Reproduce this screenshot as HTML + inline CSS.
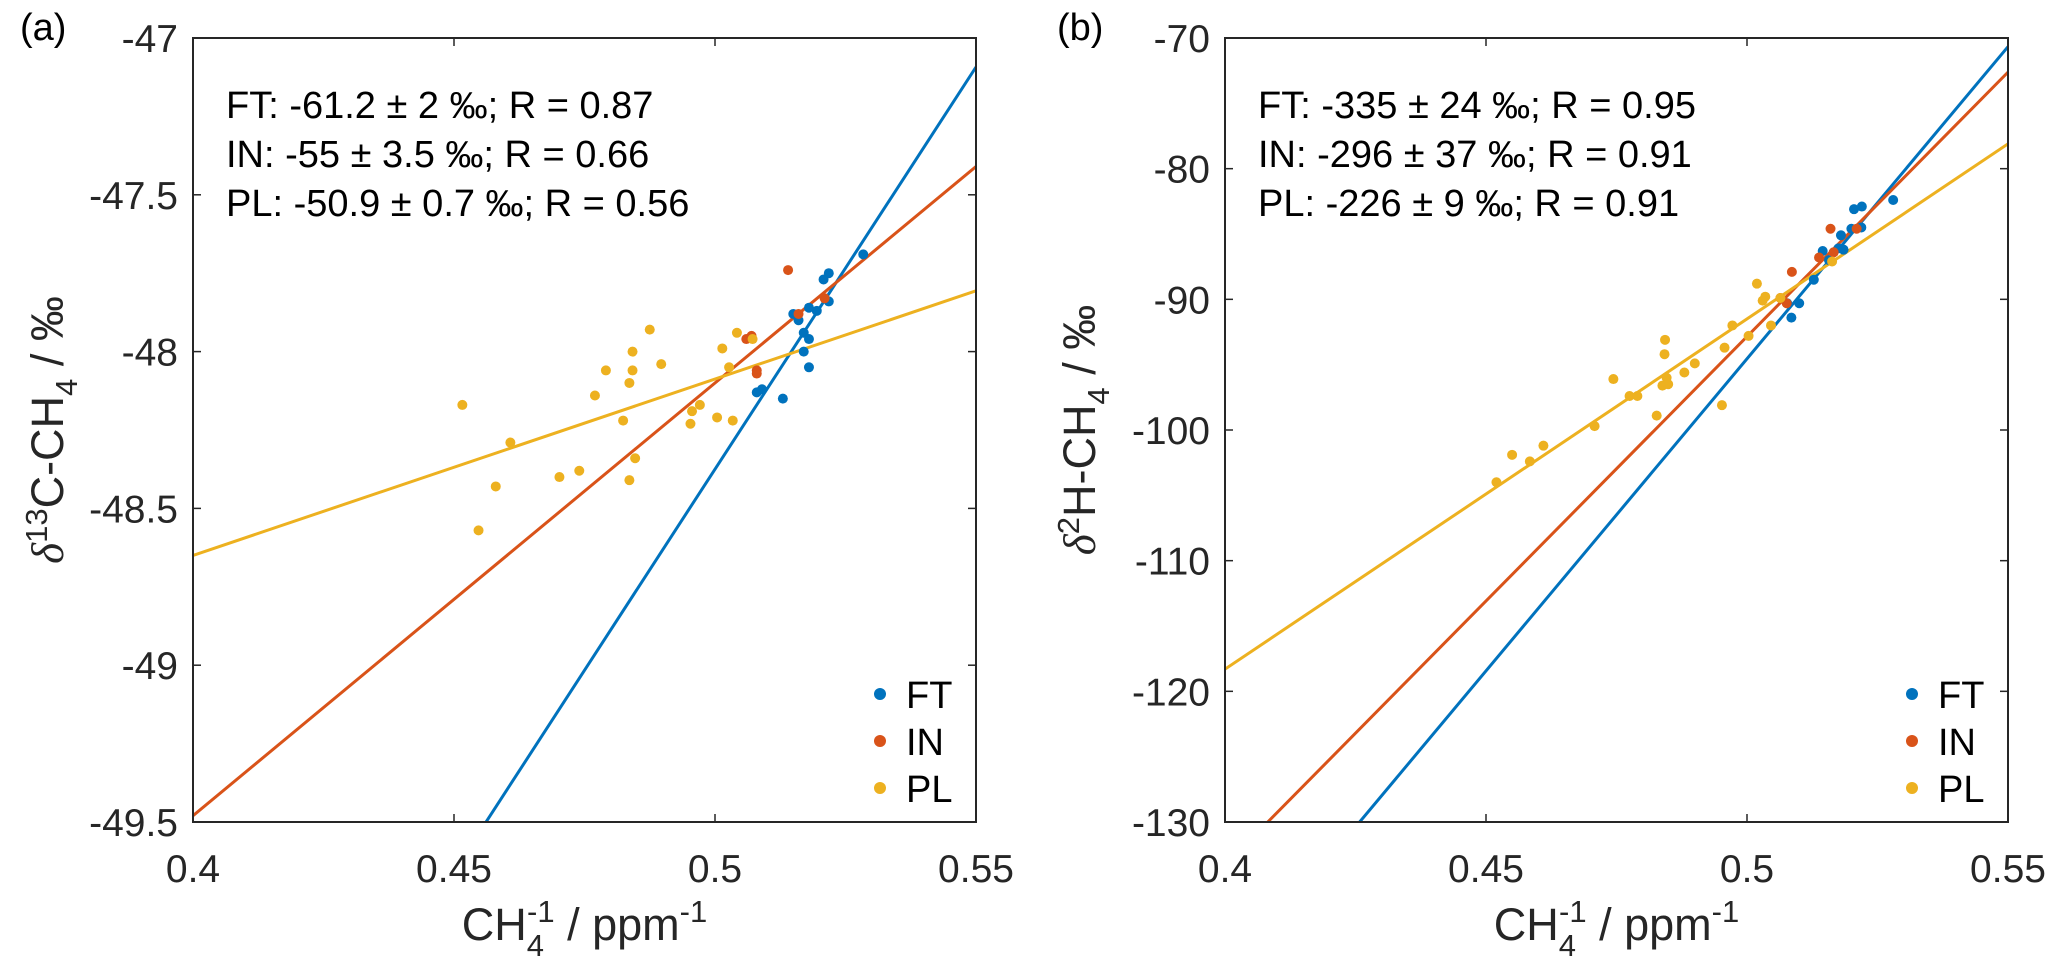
<!DOCTYPE html>
<html><head><meta charset="utf-8"><style>
html,body{margin:0;padding:0;background:#fff;width:2063px;height:975px;overflow:hidden;}
svg{display:block;font-family:"Liberation Sans",Arial,sans-serif;}
</style></head><body>
<svg id="chart" width="2063" height="975" viewBox="0 0 2063 975" xmlns="http://www.w3.org/2000/svg">
<defs>
<clipPath id="clipA"><rect x="193" y="38" width="783" height="784"/></clipPath>
<clipPath id="clipB"><rect x="1225" y="38" width="783" height="784"/></clipPath>
</defs>
</svg>
<script>
// ---- Panel (a) data ----
const xTicks = [0.4, 0.45, 0.5, 0.55];
const xTickLabels = ["0.4", "0.45", "0.5", "0.55"];
const aYTicks = [-47, -47.5, -48, -48.5, -49, -49.5];
const aYTickLabels = ["-47", "-47.5", "-48", "-48.5", "-49", "-49.5"];
const aFTx = [0.5284,0.5218,0.5208,0.5218,0.5195,0.518,0.515,0.516,0.517,0.518,0.517,0.518,0.513,0.509,0.508];
const aFTy = [-47.69,-47.75,-47.77,-47.84,-47.87,-47.86,-47.88,-47.90,-47.94,-47.96,-48.00,-48.05,-48.15,-48.12,-48.13];
const aINx = [0.514,0.506,0.507,0.508,0.508,0.516,0.521];
const aINy = [-47.74,-47.96,-47.95,-48.06,-48.07,-47.88,-47.83];
const aPLx = [0.4516,0.4547,0.458,0.4608,0.4702,0.474,0.477,0.4791,0.4824,0.4836,0.4842,0.4842,0.4847,0.4836,0.4875,0.4897,0.4953,0.4956,0.4971,0.5004,0.5014,0.5027,0.5034,0.5042,0.5072];
const aPLy = [-48.17,-48.57,-48.43,-48.29,-48.40,-48.38,-48.14,-48.06,-48.22,-48.10,-48.00,-48.06,-48.34,-48.41,-47.93,-48.04,-48.23,-48.19,-48.17,-48.21,-47.99,-48.05,-48.22,-47.94,-47.96];
const aIntercepts = [-61.2, -55, -50.9];
const aSlopes = [25.65, 13.8, 5.625];
const aAnnot = ["FT: -61.2 ± 2 ‰; R = 0.87", "IN: -55 ± 3.5 ‰; R = 0.66", "PL: -50.9 ± 0.7 ‰; R = 0.56"];
// ---- Panel (b) data ----
const bYTicks = [-70, -80, -90, -100, -110, -120, -130];
const bYTickLabels = ["-70", "-80", "-90", "-100", "-110", "-120", "-130"];
const bFTx = [0.528,0.5205,0.522,0.5219,0.520,0.518,0.5145,0.5175,0.5185,0.5157,0.5128,0.510,0.5085,0.5077];
const bFTy = [-82.4,-83.1,-82.9,-84.5,-84.6,-85.1,-86.3,-86.1,-86.2,-87.0,-88.5,-90.3,-91.4,-90.3];
const bINx = [0.516,0.5086,0.5138,0.5064,0.5076,0.521,0.5166];
const bINy = [-84.6,-87.9,-86.8,-89.9,-90.3,-84.6,-86.4];
const bPLx = [0.452,0.455,0.4584,0.461,0.4708,0.4744,0.4775,0.479,0.4827,0.4843,0.4842,0.4846,0.4838,0.4849,0.488,0.490,0.4952,0.4957,0.4972,0.5003,0.5019,0.503,0.5035,0.5046,0.5064,0.5163];
const bPLy = [-104.0,-101.9,-102.4,-101.2,-99.7,-96.1,-97.4,-97.4,-98.9,-93.1,-94.2,-96.0,-96.6,-96.5,-95.6,-94.9,-98.1,-93.7,-92.0,-92.8,-88.8,-90.1,-89.8,-92.0,-89.9,-87.1];
const bIntercepts = [-333.4, -295.2, -225.5];
const bSlopes = [477.7, 404.7, 268];
const bAnnot = ["FT: -335 ± 24 ‰; R = 0.95", "IN: -296 ± 37 ‰; R = 0.91", "PL: -226 ± 9 ‰; R = 0.91"];
const seriesNames = ["FT", "IN", "PL"];

const COLORS = ["#0072BD", "#D95319", "#EDB120"];
const NS = "http://www.w3.org/2000/svg";
const svg = document.getElementById("chart");
function mk(tag, attrs, parent){ const e=document.createElementNS(NS,tag); for(const k in attrs) e.setAttribute(k,attrs[k]); (parent||svg).appendChild(e); return e; }

function panel(opt){
  const L=opt.left, T=38, W=783, H=784, R=L+W, B=T+H;
  const x0=0.4, x1=0.55;
  const sx = v => L + (v-x0)/(x1-x0)*W;
  const sy = v => T + (opt.ymax - v)/(opt.ymax-opt.ymin)*H;
  const g = mk("g",{});
  
  
  const lg = mk("g",{"clip-path":"url(#"+opt.clip+")"},g);
  for(let i=0;i<3;i++){
    const l = mk("line",{x1:sx(x0),y1:sy(opt.ints[i]+opt.slopes[i]*x0),x2:sx(x1),y2:sy(opt.ints[i]+opt.slopes[i]*x1),stroke:COLORS[i],"stroke-width":3},lg);
    
    
  }
  const sets=[[opt.ftx,opt.fty],[opt.inx,opt.iny],[opt.plx,opt.ply]];
  for(let i=0;i<3;i++){
    for(let j=0;j<sets[i][0].length;j++){
      const c = mk("circle",{cx:sx(sets[i][0][j]),cy:sy(sets[i][1][j]),r:5,fill:COLORS[i]},g);
      
      
    }
  }
  const fr = mk("rect",{x:L,y:T,width:W,height:H,fill:"none",stroke:"#262626","stroke-width":2},g);
  
  
  for(let i=0;i<xTicks.length;i++){
    const x=sx(xTicks[i]);
    mk("line",{x1:x,y1:B,x2:x,y2:B-8,stroke:"#262626","stroke-width":1.5},g);
    mk("line",{x1:x,y1:T,x2:x,y2:T+8,stroke:"#262626","stroke-width":1.5},g);
    const t = mk("text",{x:x,y:882,"text-anchor":"middle","font-size":39,fill:"#262626"},g);
    t.textContent = xTickLabels[i];
    
    
  }
  for(let i=0;i<opt.yticks.length;i++){
    const y=sy(opt.yticks[i]);
    mk("line",{x1:L,y1:y,x2:L+8,y2:y,stroke:"#262626","stroke-width":1.5},g);
    mk("line",{x1:R,y1:y,x2:R-8,y2:y,stroke:"#262626","stroke-width":1.5},g);
    const t = mk("text",{x:L-15,y:y+14,"text-anchor":"end","font-size":39,fill:"#262626"},g);
    t.textContent = opt.ylabels[i];
    
    
  }
  const xt = mk("text",{x:L+W/2,y:940,"text-anchor":"middle","font-size":45,fill:"#262626"},g);
  xt.innerHTML = 'CH<tspan dy="16" font-size="31">4</tspan><tspan dx="-17" dy="-34" font-size="31">-1</tspan><tspan dy="18"> / ppm</tspan><tspan dy="-18" font-size="31">-1</tspan>';
  
  
  const yt = mk("text",{x:0,y:0,"text-anchor":"middle","font-size":45,fill:"#262626",transform:"translate("+(L-130)+","+(T+H/2)+") rotate(-90)"},g);
  yt.innerHTML = '<tspan font-family="Liberation Serif" font-style="italic">δ</tspan><tspan dy="-16" font-size="31">'+opt.iso+'</tspan><tspan dy="16">'+opt.el+'-CH</tspan><tspan dy="14" font-size="31">4</tspan><tspan dy="-14"> / ‰</tspan>';
  
  
  const pl = mk("text",{x:opt.plx0,y:40,"font-size":38,fill:"#000"},g);
  pl.textContent = opt.label;
  
  
  for(let i=0;i<3;i++){
    const t = mk("text",{x:L+33,y:118+i*49,"font-size":38,fill:"#000"},g);
    t.textContent = opt.annot[i];
    
    
  }
  const lgd = mk("g",{},g);
  
  
  for(let i=0;i<3;i++){
    const y = 694 + i*47;
    mk("circle",{cx:R-96,cy:y,r:6,fill:COLORS[i]},lgd);
    const t = mk("text",{x:R-70,y:y+14,"font-size":38,fill:"#000"},lgd);
    t.textContent = seriesNames[i];
    
    
  }
}

panel({id:"a",left:193,clip:"clipA",ymin:-49.5,ymax:-47,yticks:aYTicks,ylabels:aYTickLabels,
  ftx:aFTx,fty:aFTy,inx:aINx,iny:aINy,plx:aPLx,ply:aPLy,ints:aIntercepts,slopes:aSlopes,
  annot:aAnnot,label:"(a)",plx0:20,iso:"13",el:"C"});
panel({id:"b",left:1225,clip:"clipB",ymin:-130,ymax:-70,yticks:bYTicks,ylabels:bYTickLabels,
  ftx:bFTx,fty:bFTy,inx:bINx,iny:bINy,plx:bPLx,ply:bPLy,ints:bIntercepts,slopes:bSlopes,
  annot:bAnnot,label:"(b)",plx0:1057,iso:"2",el:"H"});
</script>
</body></html>
